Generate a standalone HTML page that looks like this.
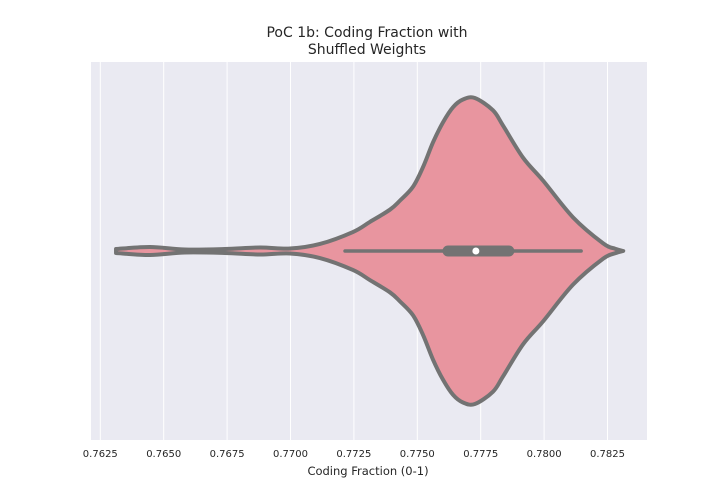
<!DOCTYPE html>
<html><head><meta charset="utf-8"><style>
html,body{margin:0;padding:0;background:#fff;}
svg{display:block;font-family:"DejaVu Sans","Liberation Sans",sans-serif;}
</style></head><body>
<svg id="chart" width="720" height="504" viewBox="0 0 720 504">
<rect x="91" y="62" width="556" height="378" fill="#eaeaf2"/>
<g id="grid"></g>
<g id="violin"></g>
<g id="ticks"></g>
<text x="367" y="37" text-anchor="middle" font-size="14" fill="#262626">PoC 1b: Coding Fraction with</text>
<text x="367" y="54" text-anchor="middle" font-size="14" fill="#262626">Shuffled Weights</text>
<text x="368" y="475" text-anchor="middle" font-size="11.5" fill="#262626">Coding Fraction (0-1)</text>
</svg>
<script>
const tickValues=[0.7625,0.7650,0.7675,0.7700,0.7725,0.7750,0.7775,0.7800,0.7825];
const tickLabels=["0.7625","0.7650","0.7675","0.7700","0.7725","0.7750","0.7775","0.7800","0.7825"];
const kdeValues=[0.76312,0.76446,0.76584,0.76742,0.76880,0.76998,0.77116,0.77246,0.77313,0.77392,0.77432,0.77483,0.77523,0.77562,0.77601,0.77641,0.77680,0.77727,0.77798,0.77838,0.77917,0.77996,0.78114,0.78233,0.78280,0.78312];
const kdeDensity=[0.013,0.026,0.010,0.013,0.023,0.016,0.046,0.124,0.19,0.27,0.33,0.42,0.55,0.71,0.84,0.94,0.99,1.0,0.92,0.82,0.61,0.46,0.22,0.05,0.015,0.0];
const whiskerLow=0.77215, q1=0.77621, median=0.77731, q3=0.77861, whiskerHigh=0.78146;

const NS="http://www.w3.org/2000/svg";
const xScale=v=>100.3+(v-0.7625)/0.0025*63.4;
const cy=251, maxHalf=153;
const wScale=d=>d*maxHalf;
function mk(tag,attrs,parent){const e=document.createElementNS(NS,tag);for(const k in attrs)e.setAttribute(k,attrs[k]);parent.appendChild(e);return e;}

const gridG=document.getElementById('grid'), ticksG=document.getElementById('ticks'), violinG=document.getElementById('violin');
tickValues.forEach((v,i)=>{
  const l=mk('line',{x1:xScale(v),x2:xScale(v),y1:62,y2:440,stroke:'#fff','stroke-width':1},gridG);
  
  
  const t=mk('text',{x:xScale(v),y:457,'text-anchor':'middle','font-size':10,fill:'#262626'},ticksG);
  t.textContent=tickLabels[i];
  
  
});

function smooth(pts){
  let d=`M${pts[0][0]},${pts[0][1]}`;
  for(let i=0;i<pts.length-1;i++){
    const p0=pts[Math.max(i-1,0)],p1=pts[i],p2=pts[i+1],p3=pts[Math.min(i+2,pts.length-1)];
    const c1=[p1[0]+(p2[0]-p0[0])/6,p1[1]+(p2[1]-p0[1])/6];
    const c2=[p2[0]-(p3[0]-p1[0])/6,p2[1]-(p3[1]-p1[1])/6];
    d+=` C${c1[0]},${c1[1]} ${c2[0]},${c2[1]} ${p2[0]},${p2[1]}`;
  }
  return d;
}
const upperPts=kdeValues.map((v,i)=>[xScale(v),cy-wScale(kdeDensity[i])]);
const lowerPts=kdeValues.map((v,i)=>[xScale(v),cy+wScale(kdeDensity[i])]).reverse();
const dUpper=smooth(upperPts), dLower=smooth(lowerPts).replace(/^M/,'L');
const body=mk('path',{d:dUpper+' '+dLower+' Z',fill:'#e8959f',stroke:'#737373','stroke-width':4,'stroke-linejoin':'round'},violinG);


const wh=mk('line',{x1:xScale(whiskerLow),x2:xScale(whiskerHigh),y1:cy,y2:cy,stroke:'#737373','stroke-width':3.5,'stroke-linecap':'round'},violinG);


const box=mk('line',{x1:xScale(q1),x2:xScale(q3),y1:cy,y2:cy,stroke:'#737373','stroke-width':11,'stroke-linecap':'round'},violinG);


const md=mk('circle',{cx:xScale(median),cy:cy,r:3.5,fill:'#fff'},violinG);


</script>
</body></html>
